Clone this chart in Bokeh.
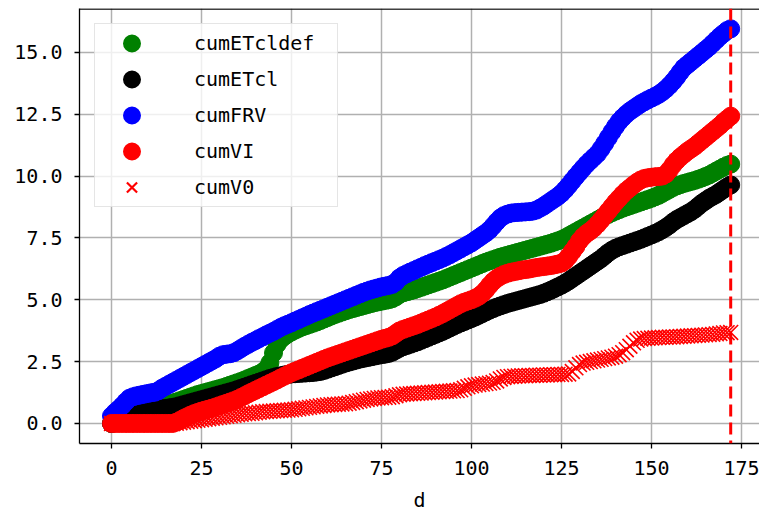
from bokeh.plotting import figure
from bokeh.models import (Range1d, FixedTicker, PrintfTickFormatter, Span, Legend,
                          LegendItem, ColumnDataSource)
from bokeh.embed import file_html
from bokeh.resources import INLINE

# ---- data -------------------------------------------------------------
d = list(range(173))

cumETcldef = [
    0.00, 0.05, 0.10, 0.16, 0.22, 0.30, 0.38, 0.45, 0.50, 0.55,
    0.58, 0.61, 0.64, 0.67, 0.70, 0.74, 0.78, 0.82, 0.87, 0.92,
    0.97, 1.02, 1.07, 1.12, 1.17, 1.21, 1.25, 1.29, 1.33, 1.37,
    1.41, 1.45, 1.50, 1.55, 1.60, 1.65, 1.70, 1.76, 1.82, 1.88,
    1.94, 2.00, 2.08, 2.20, 2.45, 2.85, 3.20, 3.40, 3.52, 3.62,
    3.70, 3.77, 3.84, 3.90, 3.95, 4.00, 4.05, 4.10, 4.16, 4.22,
    4.28, 4.34, 4.40, 4.45, 4.50, 4.55, 4.60, 4.64, 4.68, 4.72,
    4.76, 4.80, 4.84, 4.88, 4.91, 4.94, 4.97, 5.00, 5.04, 5.12,
    5.22, 5.28, 5.32, 5.36, 5.40, 5.45, 5.50, 5.55, 5.60, 5.65,
    5.70, 5.75, 5.80, 5.86, 5.92, 5.98, 6.04, 6.10, 6.16, 6.22,
    6.28, 6.34, 6.40, 6.46, 6.52, 6.57, 6.62, 6.67, 6.72, 6.76,
    6.80, 6.84, 6.88, 6.92, 6.96, 7.00, 7.04, 7.08, 7.12, 7.16,
    7.20, 7.24, 7.28, 7.33, 7.38, 7.43, 7.50, 7.58, 7.66, 7.74,
    7.82, 7.90, 7.98, 8.06, 8.14, 8.22, 8.30, 8.38, 8.45, 8.52,
    8.58, 8.64, 8.70, 8.75, 8.80, 8.85, 8.90, 8.95, 9.00, 9.05,
    9.10, 9.16, 9.22, 9.30, 9.38, 9.46, 9.54, 9.60, 9.65, 9.70,
    9.74, 9.78, 9.82, 9.87, 9.92, 9.98, 10.04, 10.12, 10.20, 10.28,
    10.36, 10.43, 10.48,
]

cumETcl = [
    0.00, 0.05, 0.10, 0.15, 0.22, 0.30, 0.36, 0.41, 0.45, 0.48,
    0.51, 0.53, 0.55, 0.57, 0.59, 0.61, 0.63, 0.65, 0.68, 0.72,
    0.76, 0.80, 0.84, 0.88, 0.92, 0.96, 1.00, 1.04, 1.08, 1.12,
    1.16, 1.20, 1.24, 1.28, 1.32, 1.37, 1.42, 1.47, 1.52, 1.57,
    1.62, 1.67, 1.72, 1.77, 1.82, 1.86, 1.90, 1.93, 1.96, 1.98,
    2.00, 2.01, 2.02, 2.03, 2.04, 2.05, 2.06, 2.08, 2.10, 2.14,
    2.19, 2.24, 2.29, 2.34, 2.39, 2.44, 2.48, 2.52, 2.56, 2.60,
    2.63, 2.66, 2.69, 2.72, 2.75, 2.78, 2.80, 2.83, 2.88, 2.96,
    3.04, 3.10, 3.15, 3.20, 3.25, 3.30, 3.36, 3.42, 3.48, 3.54,
    3.60, 3.66, 3.72, 3.79, 3.86, 3.93, 4.00, 4.06, 4.12, 4.18,
    4.24, 4.30, 4.37, 4.44, 4.51, 4.58, 4.64, 4.70, 4.75, 4.80,
    4.85, 4.89, 4.93, 4.97, 5.01, 5.05, 5.09, 5.13, 5.17, 5.21,
    5.26, 5.32, 5.38, 5.45, 5.52, 5.59, 5.67, 5.76, 5.86, 5.96,
    6.06, 6.16, 6.26, 6.36, 6.46, 6.56, 6.66, 6.78, 6.90, 7.00,
    7.08, 7.14, 7.19, 7.24, 7.29, 7.34, 7.39, 7.44, 7.50, 7.56,
    7.62, 7.68, 7.75, 7.83, 7.92, 8.02, 8.14, 8.24, 8.32, 8.40,
    8.48, 8.56, 8.66, 8.78, 8.90, 9.00, 9.10, 9.18, 9.26, 9.36,
    9.46, 9.56, 9.64,
]

cumFRV = [
    0.30, 0.45, 0.58, 0.72, 0.88, 1.02, 1.08, 1.12, 1.15, 1.18,
    1.21, 1.24, 1.26, 1.32, 1.42, 1.50, 1.58, 1.66, 1.74, 1.82,
    1.90, 1.98, 2.06, 2.14, 2.22, 2.30, 2.38, 2.46, 2.54, 2.62,
    2.72, 2.78, 2.80, 2.82, 2.86, 2.94, 3.03, 3.12, 3.20, 3.28,
    3.35, 3.43, 3.50, 3.58, 3.65, 3.72, 3.80, 3.88, 3.95, 4.01,
    4.07, 4.14, 4.20, 4.27, 4.33, 4.40, 4.46, 4.52, 4.58, 4.64,
    4.70, 4.76, 4.82, 4.88, 4.94, 5.00, 5.06, 5.12, 5.18, 5.24,
    5.30, 5.35, 5.40, 5.44, 5.48, 5.52, 5.55, 5.58, 5.62, 5.72,
    5.88, 5.98, 6.05, 6.12, 6.18, 6.25, 6.31, 6.38, 6.44, 6.50,
    6.56, 6.62, 6.68, 6.75, 6.82, 6.90, 6.98, 7.06, 7.14, 7.22,
    7.30, 7.40, 7.50, 7.60, 7.70, 7.82, 7.98, 8.15, 8.30, 8.40,
    8.46, 8.50, 8.52, 8.53, 8.54, 8.55, 8.56, 8.58, 8.62, 8.70,
    8.78, 8.88, 8.98, 9.08, 9.18, 9.30, 9.45, 9.62, 9.80, 9.98,
    10.15, 10.32, 10.48, 10.62, 10.76, 10.90, 11.10, 11.32, 11.55, 11.78,
    12.00, 12.20, 12.36, 12.50, 12.62, 12.72, 12.82, 12.92, 13.00, 13.08,
    13.15, 13.22, 13.30, 13.40, 13.52, 13.66, 13.82, 14.00, 14.20, 14.38,
    14.50, 14.62, 14.74, 14.86, 14.98, 15.10, 15.22, 15.36, 15.50, 15.64,
    15.76, 15.88, 15.95,
]

cumVI = [
    0.00, 0.00, 0.00, 0.00, 0.00, 0.00, 0.00, 0.00, 0.00, 0.00,
    0.00, 0.00, 0.00, 0.00, 0.00, 0.00, 0.00, 0.00, 0.05, 0.12,
    0.20, 0.27, 0.34, 0.40, 0.45, 0.50, 0.54, 0.58, 0.62, 0.67,
    0.72, 0.77, 0.82, 0.87, 0.92, 0.98, 1.05, 1.12, 1.20, 1.27,
    1.34, 1.41, 1.48, 1.55, 1.62, 1.69, 1.76, 1.84, 1.91, 1.98,
    2.05, 2.11, 2.17, 2.23, 2.29, 2.35, 2.41, 2.47, 2.53, 2.59,
    2.65, 2.70, 2.75, 2.80, 2.85, 2.90, 2.95, 3.00, 3.05, 3.10,
    3.15, 3.20, 3.25, 3.30, 3.35, 3.40, 3.44, 3.48, 3.54, 3.64,
    3.74, 3.80, 3.85, 3.90, 3.95, 4.00, 4.06, 4.12, 4.18, 4.24,
    4.30, 4.37, 4.44, 4.52, 4.60, 4.68, 4.76, 4.84, 4.90, 4.95,
    5.00, 5.06, 5.14, 5.25, 5.40, 5.58, 5.74, 5.86, 5.95, 6.02,
    6.07, 6.11, 6.14, 6.17, 6.20, 6.22, 6.24, 6.27, 6.30, 6.32,
    6.34, 6.36, 6.38, 6.41, 6.44, 6.48, 6.58, 6.75, 6.95, 7.15,
    7.38, 7.55, 7.68, 7.78, 7.90, 8.05, 8.22, 8.40, 8.58, 8.76,
    8.94, 9.10, 9.26, 9.40, 9.52, 9.64, 9.75, 9.84, 9.90, 9.93,
    9.95, 9.97, 9.98, 10.00, 10.08, 10.25, 10.45, 10.62, 10.76, 10.88,
    11.00, 11.10, 11.20, 11.32, 11.44, 11.56, 11.68, 11.80, 11.92, 12.04,
    12.18, 12.30, 12.42,
]

cumV0 = [
    0.00, 0.00, 0.00, 0.00, 0.00, 0.00, 0.00, 0.00, 0.00, 0.00,
    0.00, 0.00, 0.00, 0.00, 0.00, 0.00, 0.00, 0.00, 0.01, 0.03,
    0.05, 0.07, 0.09, 0.11, 0.13, 0.15, 0.17, 0.19, 0.21, 0.23,
    0.25, 0.27, 0.29, 0.31, 0.33, 0.35, 0.37, 0.39, 0.40, 0.41,
    0.43, 0.45, 0.47, 0.48, 0.49, 0.50, 0.51, 0.52, 0.53, 0.54,
    0.55, 0.57, 0.59, 0.61, 0.63, 0.65, 0.67, 0.69, 0.71, 0.73,
    0.75, 0.76, 0.77, 0.78, 0.79, 0.80, 0.82, 0.85, 0.88, 0.91,
    0.94, 0.97, 0.99, 1.01, 1.03, 1.04, 1.05, 1.06, 1.08, 1.12,
    1.16, 1.18, 1.19, 1.20, 1.21, 1.22, 1.23, 1.24, 1.25, 1.26,
    1.27, 1.28, 1.29, 1.30, 1.31, 1.32, 1.33, 1.36, 1.42, 1.48,
    1.52, 1.55, 1.57, 1.59, 1.61, 1.63, 1.66, 1.72, 1.80, 1.86,
    1.89, 1.90, 1.91, 1.92, 1.93, 1.93, 1.94, 1.94, 1.95, 1.95,
    1.96, 1.96, 1.97, 1.97, 1.98, 1.98, 1.99, 2.00, 2.10, 2.25,
    2.38, 2.44, 2.47, 2.50, 2.53, 2.56, 2.59, 2.62, 2.65, 2.68,
    2.72, 2.78, 2.86, 2.98, 3.12, 3.26, 3.36, 3.41, 3.43, 3.44,
    3.45, 3.46, 3.47, 3.48, 3.48, 3.49, 3.49, 3.50, 3.51, 3.52,
    3.53, 3.54, 3.55, 3.56, 3.57, 3.58, 3.59, 3.60, 3.62, 3.64,
    3.66, 3.67, 3.68,
]

series_names = ["cumETcldef", "cumETcl", "cumFRV", "cumVI", "cumV0"]
series_colors = ["green", "black", "blue", "red", "red"]
x_ticks = [0, 25, 50, 75, 100, 125, 150, 175]
y_ticks = [0.0, 2.5, 5.0, 7.5, 10.0, 12.5, 15.0]
x_label = "d"
marker_day = 172

# ---- figure -----------------------------------------------------------
FONT = "DejaVu Sans Mono"
FS = "20px"
y_lo, y_hi = -0.81, 16.77

p = figure(width=759, height=514, output_backend="svg", toolbar_location=None,
           x_range=Range1d(-8.89, 180.0), y_range=Range1d(y_lo, y_hi),
           min_border_left=79, min_border_right=0, min_border_top=8,
           min_border_bottom=70)
p.background_fill_color = "white"
p.border_fill_color = "white"
p.outline_line_color = None

for ax in (p.xaxis[0], p.yaxis[0]):
    ax.axis_line_color = "black"
    ax.axis_line_width = 1.3
    ax.major_tick_line_color = "black"
    ax.major_tick_line_width = 1.3
    ax.major_tick_out = 5
    ax.major_tick_in = 0
    ax.minor_tick_line_color = None
    ax.major_label_text_font = FONT
    ax.major_label_text_font_size = FS
    ax.major_label_text_color = "black"

p.xaxis.ticker = FixedTicker(ticks=x_ticks)
p.yaxis.ticker = FixedTicker(ticks=y_ticks)
p.yaxis.formatter = PrintfTickFormatter(format="%.1f")
p.xaxis.major_label_standoff = 12
p.yaxis.major_label_standoff = 12
p.xaxis.axis_label = x_label
p.xaxis.axis_label_text_font = FONT
p.xaxis.axis_label_text_font_size = FS
p.xaxis.axis_label_text_font_style = "normal"
p.xaxis.axis_label_text_color = "black"
p.xaxis.axis_label_standoff = 10

p.grid.grid_line_color = "#b0b0b0"
p.grid.grid_line_width = 1.5

# top spine
p.add_layout(Span(location=y_hi - 0.02, dimension="width",
                  line_color="black", line_width=1.3))

series = [cumETcldef, cumETcl, cumFRV, cumVI, cumV0]
items = []
for name, col, ys in zip(series_names, series_colors, series):
    src = ColumnDataSource(data=dict(d=d, v=ys))
    # legend-only proxy: a single NaN point, never drawn in the plot area
    proxy_src = ColumnDataSource(data=dict(d=[float("nan")], v=[float("nan")]))
    if name == "cumV0":
        p.scatter("d", "v", source=src, marker="x", size=21,
                  line_color=col, line_width=1.6)
        proxy = p.scatter("d", "v", source=proxy_src, marker="x",
                          size=21, line_color=col, line_width=2.2)
    else:
        p.scatter("d", "v", source=src, marker="circle", size=18,
                  fill_color=col, line_color=col, line_width=1)
        proxy = p.scatter("d", "v", source=proxy_src, marker="circle",
                          size=18, fill_color=col, line_color=col, line_width=3.6)
    items.append(LegendItem(label=name, renderers=[proxy]))

p.add_layout(Span(location=marker_day, dimension="height", line_color="red",
                  line_width=3, line_dash="12 6"))

legend = Legend(items=items, location="top_left", margin=15, padding=1,
                glyph_width=71, glyph_height=36, label_height=36,
                label_width=142, label_standoff=27, spacing=0,
                label_text_font=FONT, label_text_font_size=FS,
                label_text_color="black",
                border_line_color="#cccccc", border_line_width=1.2,
                background_fill_color="white", background_fill_alpha=0.8)
p.add_layout(legend)

open("out.html", "w").write(file_html(p, INLINE))
